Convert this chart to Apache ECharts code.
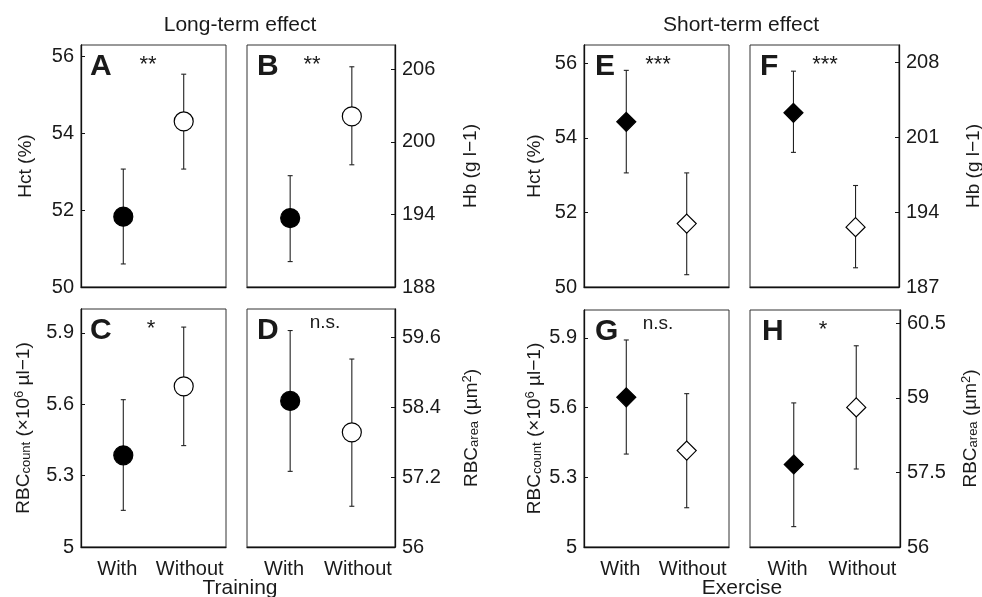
<!DOCTYPE html>
<html lang="en">
<head>
    <meta charset="UTF-8">
    <title>Long-term and short-term effect</title>
    <style>
        html, body { margin: 0; padding: 0; background: #fff; }
    </style>
</head>
<body>
<div id="main" style="width:982px;height:597px;"></div>

<script src="https://cdn.jsdelivr.net/npm/echarts@6/dist/echarts.min.js"></script>
<script>
    var categories = ['With', 'Without'];

    // long-term effect (training), circles
    var hctTrainMean = [51.83, 54.31];
    var hctTrainLow = [50.60, 53.07];
    var hctTrainHigh = [53.07, 55.54];

    var hbTrainMean = [193.7, 202.1];
    var hbTrainLow = [190.1, 198.1];
    var hbTrainHigh = [197.2, 206.2];

    var countTrainMean = [5.385, 5.675];
    var countTrainLow = [5.154, 5.426];
    var countTrainHigh = [5.619, 5.924];

    var areaTrainMean = [58.51, 57.97];
    var areaTrainLow = [57.30, 56.70];
    var areaTrainHigh = [59.72, 59.23];

    // short-term effect (exercise), diamonds
    var hctExMean = [54.43, 51.70];
    var hctExLow = [53.06, 50.33];
    var hctExHigh = [55.81, 53.06];

    var hbExMean = [203.3, 192.6];
    var hbExLow = [199.6, 188.8];
    var hbExHigh = [207.2, 196.5];

    var countExMean = [5.644, 5.415];
    var countExLow = [5.400, 5.169];
    var countExHigh = [5.891, 5.660];

    var areaExMean = [57.66, 58.81];
    var areaExLow = [56.41, 57.57];
    var areaExHigh = [58.90, 60.05];

    // tick labels
    var hctTicks = [50, 52, 54, 56];
    var hbTrainTicks = [188, 194, 200, 206];
    var hbExTicks = [187, 194, 201, 208];
    var countTicks = [5, 5.3, 5.6, 5.9];
    var areaTrainTicks = [56, 57.2, 58.4, 59.6];
    var areaExTicks = [56, 57.5, 59, 60.5];

    var FONT = 'Liberation Sans, Arial, sans-serif';
    var TXT = '#1a1a1a';

    var nameRich = {
        n: {fontSize: 19, fontFamily: FONT, color: TXT, padding: [0, 0, 5, 0]},
        sub: {fontSize: 13, fontFamily: FONT, color: TXT, padding: [0, 0, 0, 0]},
        sup: {fontSize: 13, fontFamily: FONT, color: TXT, padding: [0, 0, 14, 0]}
    };
    var hctName = '{n|Hct (%)}';
    var hbName = '{n|Hb (g l−1)}';
    var countName = '{n|RBC}{sub|count}{n| (×10}{sup|6}{n| µl−1)}';
    var areaName = '{n|RBC}{sub|area}{n| (µm}{sup|2}{n|)}';

    var panels = [
        {box: [81, 45, 145, 242], mean: hctTrainMean, low: hctTrainLow, high: hctTrainHigh,
            ticks: hctTicks, min: 50, max: 56.3, side: 'left', name: hctName, gap: 41,
            symbol: 'circle', letter: 'A', sig: '**', lx: 90, sx: 148},
        {box: [247, 45, 148, 242], mean: hbTrainMean, low: hbTrainLow, high: hbTrainHigh,
            ticks: hbTrainTicks, min: 188, max: 208, side: 'right', name: hbName, gap: 66,
            symbol: 'circle', letter: 'B', sig: '**', lx: 257, sx: 312},
        {box: [81, 309, 145, 238], mean: countTrainMean, low: countTrainLow, high: countTrainHigh,
            ticks: countTicks, min: 5, max: 6.0, side: 'left', name: countName, gap: 41,
            symbol: 'circle', letter: 'C', sig: '*', lx: 90, sx: 151},
        {box: [247, 309, 148, 238], mean: areaTrainMean, low: areaTrainLow, high: areaTrainHigh,
            ticks: areaTrainTicks, min: 56, max: 60.09, side: 'right', name: areaName, gap: 66,
            symbol: 'circle', letter: 'D', sig: 'n.s.', lx: 257, sx: 325},
        {box: [584, 45, 145, 242], mean: hctExMean, low: hctExLow, high: hctExHigh,
            ticks: hctTicks, min: 50, max: 56.49, side: 'left', name: hctName, gap: 35,
            symbol: 'diamond', letter: 'E', sig: '***', lx: 595, sx: 658},
        {box: [750, 45, 149, 242], mean: hbExMean, low: hbExLow, high: hbExHigh,
            ticks: hbExTicks, min: 187, max: 209.65, side: 'right', name: hbName, gap: 65,
            symbol: 'diamond', letter: 'F', sig: '***', lx: 760, sx: 825},
        {box: [584, 310, 145, 237], mean: countExMean, low: countExLow, high: countExHigh,
            ticks: countTicks, min: 5, max: 6.02, side: 'left', name: countName, gap: 33,
            symbol: 'diamond', letter: 'G', sig: 'n.s.', lx: 595, sx: 658},
        {box: [750, 310, 150, 237], mean: areaExMean, low: areaExLow, high: areaExHigh,
            ticks: areaExTicks, min: 56, max: 60.77, side: 'right', name: areaName, gap: 60,
            symbol: 'diamond', letter: 'H', sig: '*', lx: 762, sx: 823}
    ];

    var grid = [], xAxis = [], yAxis = [], series = [], graphic = [];

    panels.forEach(function (p, k) {
        grid.push({
            left: p.box[0], top: p.box[1], width: p.box[2], height: p.box[3],
            show: true, borderColor: '#333', borderWidth: 1, backgroundColor: '#fff',
            containLabel: false, outerBoundsMode: 'none'
        });
        // visible category axis for the labels
        xAxis.push({
            type: 'category', gridIndex: k, data: categories, position: 'bottom',
            boundaryGap: true,
            axisLine: {show: true, lineStyle: {color: '#111', width: 1.3}},
            axisTick: {show: false},
            axisLabel: {show: k === 2 || k === 3 || k === 6 || k === 7, interval: 0, margin: 12,
                fontSize: 20, fontFamily: FONT, color: TXT},
            splitLine: {show: false}
        });
        // hidden value axis used to place the marks
        xAxis.push({
            type: 'value', gridIndex: k, min: 0.3, max: 2.7, show: false,
            splitLine: {show: false}
        });
        yAxis.push({
            type: 'value', gridIndex: k, min: p.min, max: p.max, position: p.side,
            axisLine: {show: true, lineStyle: {color: '#111', width: 1.3}},
            axisTick: {show: true, inside: true, length: 4, customValues: p.ticks,
                lineStyle: {color: '#111'}},
            axisLabel: {customValues: p.ticks, margin: 7, fontSize: 20, fontFamily: FONT, color: TXT,
                showMinLabel: true, showMaxLabel: true},
            splitLine: {show: false},
            name: p.name, nameLocation: 'middle', nameRotate: 90, nameGap: p.gap,
            nameTextStyle: {rich: nameRich, fontSize: 19, fontFamily: FONT, color: TXT}
        });

        var errData = categories.map(function (c, i) {
            return [i + 1, p.low[i], p.high[i]];
        });
        series.push({
            type: 'custom', xAxisIndex: 2 * k + 1, yAxisIndex: k, z: 2,
            silent: true, animation: false,
            data: errData,
            encode: {x: 0, y: [1, 2]},
            renderItem: function (params, api) {
                var x = api.value(0);
                var lo = api.coord([x, api.value(1)]);
                var hi = api.coord([x, api.value(2)]);
                var cap = 2.5;
                var st = {stroke: '#222', lineWidth: 1.1};
                return {
                    type: 'group',
                    children: [
                        {type: 'line', shape: {x1: lo[0], y1: lo[1], x2: hi[0], y2: hi[1]}, style: st},
                        {type: 'line', shape: {x1: lo[0] - cap, y1: lo[1], x2: lo[0] + cap, y2: lo[1]}, style: st},
                        {type: 'line', shape: {x1: hi[0] - cap, y1: hi[1], x2: hi[0] + cap, y2: hi[1]}, style: st}
                    ]
                };
            }
        });

        series.push({
            type: 'scatter', xAxisIndex: 2 * k + 1, yAxisIndex: k, z: 3,
            symbol: p.symbol, symbolSize: 19,
            silent: true, animation: false,
            data: categories.map(function (c, i) {
                return {
                    name: c,
                    value: [i + 1, p.mean[i]],
                    itemStyle: {color: i === 0 ? '#000' : '#fff', borderColor: '#000',
                        borderWidth: 1.2, opacity: 1}
                };
            })
        });

        graphic.push({
            type: 'text', left: p.lx, top: p.box[1] + 7, silent: true,
            style: {text: p.letter, fontSize: 30, fontWeight: 'bold', fontFamily: FONT, fill: '#1a1a1a'}
        });
        graphic.push({
            type: 'text', x: p.sx, y: p.box[1] + (p.sig === 'n.s.' ? 4 : 9), silent: true,
            style: {text: p.sig, fontSize: p.sig === 'n.s.' ? 19 : 22, fontFamily: FONT, fill: '#1a1a1a',
                align: 'center', verticalAlign: 'top'}
        });
    });

    var heads = [
        {text: 'Long-term effect', x: 240, y: 25},
        {text: 'Short-term effect', x: 741, y: 25},
        {text: 'Training', x: 240, y: 588},
        {text: 'Exercise', x: 742, y: 588}
    ];
    heads.forEach(function (h) {
        graphic.push({
            type: 'text', x: h.x, y: h.y, silent: true,
            style: {text: h.text, fontSize: 21, fontFamily: FONT, fill: TXT, align: 'center', verticalAlign: 'middle'}
        });
    });

    var myChart = echarts.init(document.getElementById('main'), null, {renderer: 'canvas'});
    myChart.setOption({
        animation: false,
        backgroundColor: '#fff',
        grid: grid,
        xAxis: xAxis,
        yAxis: yAxis,
        series: series,
        graphic: graphic
    });
</script>
</body>
</html>
